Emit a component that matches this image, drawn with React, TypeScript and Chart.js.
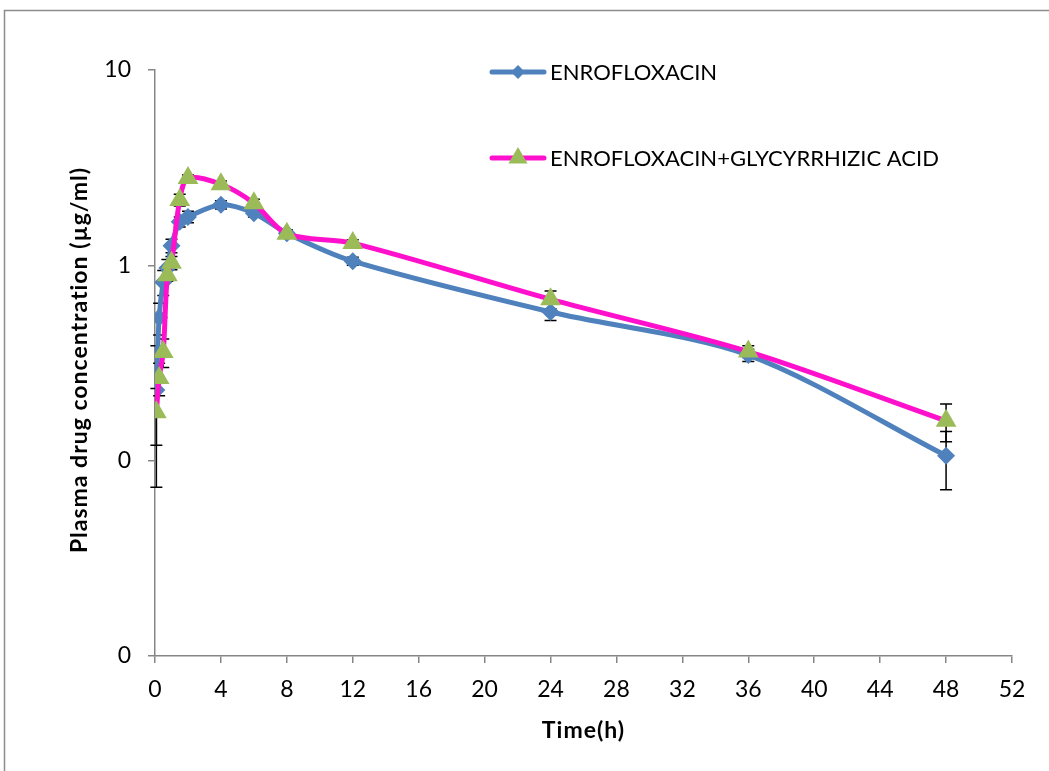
import React, { useEffect, useRef } from "react";
import { Chart, registerables } from "chart.js";

Chart.register(...registerables);

const times = [0.083, 0.25, 0.5, 0.75, 1, 1.5, 2, 4, 6, 8, 12, 24, 36, 48];
const enro = [0.23, 0.54, 0.82, 0.97, 1.26, 1.67, 1.77, 2.04, 1.85, 1.46, 1.05, 0.577, 0.347, 0.106];
const enroGly = [0.177, 0.265, 0.36, 0.89, 1.03, 2.16, 2.8, 2.6, 2.08, 1.45, 1.3, 0.67, 0.362, 0.16];
const enroSd = [0.157, 0.1, 0.12, 0.1, 0.1, 0.1, 0.12, 0.1, 0.08, 0.06, 0.05, 0.055, 0.025, 0.035];
const enroGlySd = [0.057, 0.05, 0.06, 0.06, 0.08, 0.15, 0.1, 0.1, 0.1, 0.05, 0.05, 0.07, 0.025, 0.035];
const yTicks = [0.01, 0.1, 1, 10];
const seriesNames = ["ENROFLOXACIN", "ENROFLOXACIN+GLYCYRRHIZIC ACID"];

const BLUE = "#4F81BD";
const PINK = "#FF10CC";
const GREEN = "#9BBB59";
const AXIS = "#868686";
const FONT = "Lato, 'Open Sans', sans-serif";

const errs = [enroSd, enroGlySd];

const errorBars = {
  id: "errorBars",
  beforeDatasetsDraw(chart: any) {
    const ctx = chart.ctx;
    const y = chart.scales.y;
    ctx.save();
    ctx.strokeStyle = "#000";
    ctx.lineWidth = 1.5;
    chart.data.datasets.forEach((ds: any, di: number) => {
      const meta = chart.getDatasetMeta(di);
      const sd = errs[ds.errIndex];
      meta.data.forEach((pt: any, i: number) => {
        const v = ds.data[i].y;
        const px = pt.x;
        const top = y.getPixelForValue(v + sd[i]);
        const bot = y.getPixelForValue(Math.max(v - sd[i], 0.0001));
        ctx.beginPath();
        ctx.moveTo(px, top);
        ctx.lineTo(px, bot);
        ctx.moveTo(px - 6, top);
        ctx.lineTo(px + 6, top);
        ctx.moveTo(px - 6, bot);
        ctx.lineTo(px + 6, bot);
        ctx.stroke();
      });
    });
    ctx.restore();
  },
};

const decorations = {
  id: "decorations",
  beforeDraw(chart: any) {
    const ctx = chart.ctx;
    ctx.save();
    ctx.fillStyle = "#fff";
    ctx.fillRect(0, 0, chart.width, chart.height);
    ctx.strokeStyle = "#8c8c8c";
    ctx.lineWidth = 1.5;
    ctx.strokeRect(4.5, 10.5, chart.width + 100, chart.height + 100);
    ctx.restore();
  },
  afterDraw(chart: any) {
    const ctx = chart.ctx;
    const ca = chart.chartArea;
    ctx.save();
    ctx.fillStyle = "#000";
    ctx.font = `bold 23px ${FONT}`;
    (ctx as any).letterSpacing = "1px";
    ctx.textAlign = "center";
    ctx.textBaseline = "middle";
    ctx.fillText("Time(h)", (ca.left + ca.right) / 2, 731);
    ctx.save();
    ctx.translate(80, (ca.top + ca.bottom) / 2 - 3);
    ctx.rotate(-Math.PI / 2);
    ctx.fillText("Plasma drug concentration (µg/ml)", 0, 0);
    ctx.restore();
    (ctx as any).letterSpacing = "0px";

    // legend
    const entries = [
      { y: 72, color: BLUE, marker: "diamond" },
      { y: 158, color: PINK, marker: "triangle" },
    ];
    entries.forEach((e, i) => {
      ctx.strokeStyle = e.color;
      ctx.lineWidth = 5;
      ctx.lineCap = "round";
      ctx.beginPath();
      ctx.moveTo(492, e.y);
      ctx.lineTo(544, e.y);
      ctx.stroke();
      const cx = 518;
      ctx.beginPath();
      if (e.marker === "diamond") {
        const r = 7;
        ctx.fillStyle = BLUE;
        ctx.moveTo(cx, e.y - r);
        ctx.lineTo(cx + r, e.y);
        ctx.lineTo(cx, e.y + r);
        ctx.lineTo(cx - r, e.y);
      } else {
        const r = 11;
        ctx.fillStyle = GREEN;
        ctx.moveTo(cx, e.y - r);
        ctx.lineTo(cx + r * 0.87, e.y + r * 0.5);
        ctx.lineTo(cx - r * 0.87, e.y + r * 0.5);
      }
      ctx.closePath();
      ctx.fill();
      ctx.fillStyle = "#000";
      ctx.font = `22px ${FONT}`;
      ctx.textAlign = "left";
      ctx.textBaseline = "middle";
      ctx.fillText(seriesNames[i], 550, e.y + 1);
    });
    ctx.restore();
  },
};

export default function App() {
  const ref = useRef<HTMLCanvasElement | null>(null);
  useEffect(() => {
    if (!ref.current) return;
    Chart.defaults.font.family = FONT;
    const chart = new Chart(ref.current, {
      type: "line",
      data: {
        datasets: [
          {
            label: seriesNames[1],
            data: times.map((t, i) => ({ x: t, y: enroGly[i] })),
            borderColor: PINK,
            backgroundColor: GREEN,
            borderWidth: 5,
            tension: 0.3,
            pointStyle: "triangle",
            pointRadius: 12,
            pointBorderWidth: 0,
            pointBackgroundColor: GREEN,
            order: 0,
            errIndex: 1,
          } as any,
          {
            label: seriesNames[0],
            data: times.map((t, i) => ({ x: t, y: enro[i] })),
            borderColor: BLUE,
            backgroundColor: BLUE,
            borderWidth: 5,
            tension: 0.3,
            pointStyle: "rectRot",
            pointRadius: 9,
            pointBorderWidth: 0,
            pointBackgroundColor: BLUE,
            order: 1,
            errIndex: 0,
          } as any,
        ],
      },
      options: {
        animation: false,
        responsive: true,
        maintainAspectRatio: false,
        layout: { padding: { left: 0, top: 70, right: 37, bottom: 0 } },
        plugins: { legend: { display: false }, tooltip: { enabled: false } },
        scales: {
          x: {
            type: "linear",
            min: 0,
            max: 52,
            ticks: { stepSize: 4, color: "#000", font: { size: 23 }, padding: 13, maxRotation: 0 },
            grid: { drawOnChartArea: false, drawTicks: true, tickLength: 7, color: AXIS, lineWidth: 1.5 },
            border: { color: AXIS, width: 1.5 },
            afterFit(scale: any) {
              scale.height = 115;
            },
          },
          y: {
            type: "logarithmic",
            min: 0.01,
            max: 10,
            afterBuildTicks(scale: any) {
              scale.ticks = yTicks.map((v) => ({ value: v }));
            },
            ticks: {
              color: "#000",
              font: { size: 23 },
              padding: 17,
              callback: (v: any) => String(Math.round(Number(v))),
            },
            grid: { drawOnChartArea: false, drawTicks: true, tickLength: 7, color: AXIS, lineWidth: 1.5 },
            border: { color: AXIS, width: 1.5 },
            afterFit(scale: any) {
              scale.width = 155;
            },
          },
        },
      },
      plugins: [decorations, errorBars],
    });
    return () => chart.destroy();
  }, []);
  return (
    <div style={{ position: "absolute", left: 0, top: 0, width: 1049, height: 771 }}>
      <canvas ref={ref} />
    </div>
  );
}
